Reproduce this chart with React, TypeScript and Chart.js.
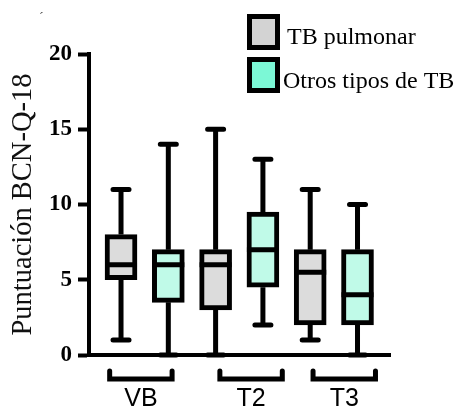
import React, { useEffect, useRef } from 'react';
import { Chart, registerables } from 'chart.js';

Chart.register(...registerables);

// ---- data ----
const groupLabels = ['VB', 'T2', 'T3'];
const seriesNames = ['TB pulmonar', 'Otros tipos de TB'];
const yTickValues = [0, 5, 10, 15, 20];

const pulmonarMin = [1, 0, 1];
const pulmonarQ1 = [5, 3, 2];
const pulmonarMedian = [6, 6, 5.5];
const pulmonarQ3 = [8, 7, 7];
const pulmonarMax = [11, 15, 11];

const otrosMin = [0, 2, 0];
const otrosQ1 = [3.5, 4.5, 2];
const otrosMedian = [6, 7, 4];
const otrosQ3 = [7, 9.5, 7];
const otrosMax = [14, 13, 10];

// ---- style ----
const BOX_FILL = ['#dcdcdc', '#c0fae8'];
const LEGEND_FILL = ['#d3d3d3', '#7cf8d6'];
const INK = '#000000';
const SERIF = '"Liberation Serif", "Times New Roman", serif';
const SANS = '"Liberation Sans", Arial, sans-serif';
const BRACKET_SHIFT = [-0.08, 0.25, 0.22];
const BRACKET_HALF = 0.66;

const stats = [
  { min: pulmonarMin, q1: pulmonarQ1, median: pulmonarMedian, q3: pulmonarQ3, max: pulmonarMax },
  { min: otrosMin, q1: otrosQ1, median: otrosMedian, q3: otrosQ3, max: otrosMax },
];

const boxPlugin = {
  id: 'boxWhiskers',
  afterDatasetsDraw(chart: any) {
    const ctx = chart.ctx;
    const y = chart.scales.y;
    chart.data.datasets.forEach((ds: any, di: number) => {
      const meta = chart.getDatasetMeta(di);
      const s = stats[di];
      meta.data.forEach((el: any, i: number) => {
        const x = el.x;
        const half = el.width / 2;
        const pMin = y.getPixelForValue(s.min[i]);
        const pMax = y.getPixelForValue(s.max[i]);
        const pQ1 = y.getPixelForValue(s.q1[i]);
        const pQ3 = y.getPixelForValue(s.q3[i]);
        const pMed = y.getPixelForValue(s.median[i]);
        ctx.save();
        ctx.strokeStyle = INK;
        ctx.lineWidth = 5;
        ctx.lineCap = 'butt';
        ctx.beginPath();
        ctx.moveTo(x, pQ3);
        ctx.lineTo(x, pMax);
        ctx.moveTo(x, pQ1);
        ctx.lineTo(x, pMin);
        ctx.stroke();
        ctx.lineCap = 'round';
        ctx.beginPath();
        ctx.moveTo(x - 8, pMax);
        ctx.lineTo(x + 8, pMax);
        ctx.moveTo(x - 8, pMin);
        ctx.lineTo(x + 8, pMin);
        ctx.stroke();
        ctx.lineCap = 'butt';
        ctx.beginPath();
        ctx.moveTo(x - half, pMed);
        ctx.lineTo(x + half, pMed);
        ctx.stroke();
        ctx.restore();
      });
    });
  },
  afterDraw(chart: any) {
    const ctx = chart.ctx;
    const xs = chart.scales.x;
    const bottom = chart.chartArea.bottom;
    ctx.save();
    // group brackets and labels
    groupLabels.forEach((lab, g) => {
      const c = g * 2 + 0.5 + BRACKET_SHIFT[g];
      const x1 = xs.getPixelForValue(c - BRACKET_HALF);
      const x2 = xs.getPixelForValue(c + BRACKET_HALF);
      const xc = (x1 + x2) / 2;
      ctx.strokeStyle = INK;
      ctx.lineWidth = 5;
      ctx.lineJoin = 'miter';
      ctx.lineCap = 'round';
      ctx.beginPath();
      ctx.moveTo(x1, bottom + 16);
      ctx.lineTo(x1, bottom + 24);
      ctx.lineTo(x2, bottom + 24);
      ctx.lineTo(x2, bottom + 16);
      ctx.stroke();
      ctx.fillStyle = INK;
      ctx.font = `normal 25px ${SANS}`;
      ctx.textAlign = 'center';
      ctx.textBaseline = 'alphabetic';
      ctx.fillText(lab, xc, bottom + 51);
    });
    // legend
    seriesNames.forEach((name, k) => {
      const top = k === 0 ? 14 : 57;
      ctx.fillStyle = LEGEND_FILL[k];
      ctx.fillRect(249, top + 2, 29, 32);
      ctx.strokeStyle = INK;
      ctx.lineWidth = 5;
      ctx.lineJoin = 'miter';
      ctx.strokeRect(249.5, top + 2.5, 28, 31);
      ctx.fillStyle = INK;
      ctx.font = `normal 24px ${SERIF}`;
      ctx.textAlign = 'left';
      ctx.textBaseline = 'alphabetic';
      ctx.fillText(name, k === 0 ? 287 : 283, k === 0 ? 44 : 88);
    });
    ctx.fillStyle = '#555';
    ctx.font = `normal 14px ${SERIF}`;
    ctx.fillText('\u00b4', 39, 22);
    ctx.restore();
  },
};

export default function App() {
  const ref = useRef<HTMLCanvasElement | null>(null);

  useEffect(() => {
    if (!ref.current) return;
    const datasets = seriesNames.map((name, k) => ({
      label: name,
      data: groupLabels.map((_, g) => ({ x: g * 2 + k, y: [stats[k].q1[g], stats[k].q3[g]] })),
      backgroundColor: BOX_FILL[k],
      borderColor: INK,
      borderWidth: 5,
      borderSkipped: false,
      barThickness: 32,
      grouped: false,
    }));
    const chart = new Chart(ref.current, {
      type: 'bar',
      data: { datasets } as any,
      plugins: [boxPlugin],
      options: {
        animation: false,
        responsive: false,
        maintainAspectRatio: false,
        layout: { padding: { top: 54, right: 64, bottom: 0, left: 0 } },
        plugins: { legend: { display: false }, tooltip: { enabled: false } },
        scales: {
          x: {
            type: 'linear',
            offset: false,
            min: -0.677,
            max: 5.687,
            ticks: { display: false },
            grid: { display: false, offset: false },
            border: { display: true, width: 4, color: INK },
            afterFit: (scale: any) => {
              scale.height = 55;
            },
          },
          y: {
            type: 'linear',
            min: 0,
            max: 20,
            afterBuildTicks: (scale: any) => {
              scale.ticks = yTickValues.map((v) => ({ value: v }));
            },
            ticks: {
              color: INK,
              padding: 6,
              font: { family: SERIF, size: 23, weight: 'bold' },
            },
            grid: {
              display: true,
              drawOnChartArea: false,
              drawTicks: true,
              tickLength: 11,
              tickWidth: 4,
              tickColor: INK,
            },
            border: { display: true, width: 4, color: INK },
            title: {
              display: true,
              text: 'Puntuación BCN-Q-18',
              color: '#111',
              font: { family: SERIF, size: 28.5, weight: 'normal' },
              padding: { top: 6, bottom: 0 },
            },
            afterFit: (scale: any) => {
              scale.width = 89;
            },
          },
        },
      } as any,
    });
    return () => chart.destroy();
  }, []);

  return (
    <div style={{ position: 'fixed', left: 0, top: 0, width: 454, height: 410, background: '#fff' }}>
      <canvas ref={ref} width={454} height={410} />
    </div>
  );
}
